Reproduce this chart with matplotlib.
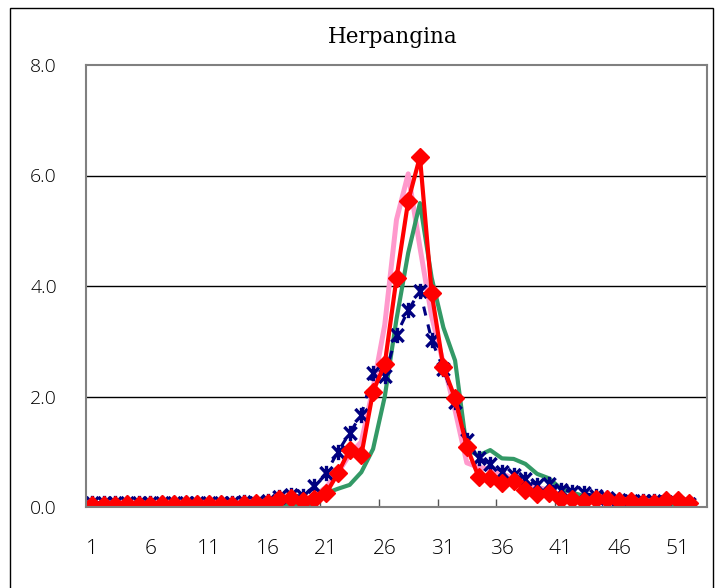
import numpy as np
import matplotlib
matplotlib.use("Agg")
import matplotlib.pyplot as plt
from matplotlib.patches import Rectangle
from matplotlib.path import Path

title = "Herpangina"
weeks = list(range(1, 53))
xtick_labels = [str(w) for w in range(1, 53, 5)]
ytick_vals = [0.0, 2.0, 4.0, 6.0, 8.0]

# current season (red, diamonds)
red = [0.04, 0.03, 0.04, 0.05, 0.03, 0.04, 0.06, 0.05, 0.06, 0.05, 0.05, 0.06, 0.04, 0.05,
       0.08, 0.07, 0.14, 0.16, 0.10, 0.14, 0.25, 0.61, 1.04, 0.94, 2.09, 2.59, 4.14, 5.54,
       6.34, 3.87, 2.53, 1.97, 1.09, 0.55, 0.53, 0.44, 0.47, 0.30, 0.24, 0.26, 0.15, 0.14,
       0.11, 0.15, 0.14, 0.11, 0.11, 0.08, 0.08, 0.12, 0.12, 0.07]
# navy, dashed with asterisks
navy = [0.08, 0.08, 0.08, 0.08, 0.08, 0.08, 0.08, 0.08, 0.08, 0.08, 0.08, 0.08, 0.08, 0.09,
        0.08, 0.10, 0.18, 0.21, 0.20, 0.38, 0.62, 1.00, 1.34, 1.67, 2.42, 2.37, 3.12, 3.56,
        3.91, 3.02, 2.50, 1.90, 1.22, 0.89, 0.78, 0.64, 0.58, 0.50, 0.40, 0.41, 0.31, 0.28,
        0.25, 0.20, 0.17, 0.13, 0.11, 0.10, 0.10, 0.09, 0.08, 0.06]
# pink line
pink = [0.06, 0.06, 0.07, 0.07, 0.06, 0.07, 0.07, 0.08, 0.07, 0.07, 0.08, 0.07, 0.07, 0.08,
        0.08, 0.09, 0.11, 0.13, 0.13, 0.20, 0.36, 0.62, 0.95, 1.18, 2.15, 3.30, 5.20, 6.03,
        4.70, 3.45, 2.60, 1.75, 0.80, 0.72, 0.68, 0.60, 0.52, 0.44, 0.36, 0.30, 0.22, 0.18,
        0.15, 0.12, 0.11, 0.10, 0.10, 0.09, 0.08, 0.08, 0.08, 0.06]
# green line
green = [0.03, 0.03, 0.03, 0.03, 0.03, 0.03, 0.03, 0.03, 0.03, 0.03, 0.03, 0.03, 0.03, 0.03,
         0.03, 0.03, 0.04, 0.04, 0.04, 0.06, 0.25, 0.33, 0.40, 0.63, 1.05, 2.00, 3.40, 4.60,
         5.50, 4.15, 3.25, 2.65, 1.05, 0.93, 1.03, 0.88, 0.87, 0.78, 0.60, 0.52, 0.34, 0.26,
         0.20, 0.15, 0.12, 0.10, 0.08, 0.07, 0.06, 0.05, 0.05, 0.04]

# asterisk marker: X plus vertical bar
star = Path([(-0.8, -0.85), (0.8, 0.85), (-0.8, 0.85), (0.8, -0.85), (0, -1), (0, 1)],
            [Path.MOVETO, Path.LINETO, Path.MOVETO, Path.LINETO, Path.MOVETO, Path.LINETO])

fig = plt.figure(figsize=(7.19, 5.88), dpi=100)
ax = fig.add_axes([86 / 719, 1 - 507 / 588, 621 / 719, 442 / 588])

# outer chart border
fig.patches.append(Rectangle((10 / 719, -0.02), 703 / 719, 1.02 - 8 / 588, transform=fig.transFigure,
                             fill=False, edgecolor="black", linewidth=1.0))

for y in ytick_vals[1:-1]:
    ax.axhline(y, color="black", linewidth=1.0, zorder=1)

ax.plot(weeks, pink, color="#FF99CC", linewidth=3.6, zorder=2)
ax.plot(weeks, green, color="#339966", linewidth=3.0, zorder=3)
ax.plot(weeks, navy, color="#000080", linewidth=2.2, linestyle=(0, (3, 3)),
        marker=star, markersize=11, markeredgewidth=2.4, zorder=4)
ax.plot(weeks, red, color="#FF0000", linewidth=3.0, marker="D", markersize=9,
        markeredgecolor="#FF0000", zorder=5)

ax.set_xlim(0.5, 53.5)
ax.set_ylim(0, 8)
ax.set_xticks([0.5 + 5 * k for k in range(11)])
ax.set_xticks([1 + 5 * k for k in range(11)], minor=True)
ax.set_xticklabels([])
ax.set_xticklabels(xtick_labels, minor=True)
ax.tick_params(axis="x", which="major", direction="in", length=6, width=1, color="#555555")
ax.tick_params(axis="x", which="minor", length=0, pad=23, labelsize=15)
ax.set_yticks(ytick_vals)
ax.set_yticklabels(["%.1f" % v for v in ytick_vals])
ax.tick_params(axis="y", length=0, pad=21, labelsize=14)
for lab in ax.get_xticklabels(minor=True) + ax.get_yticklabels():
    lab.set_family(["Open Sans", "DejaVu Sans"])
    lab.set_fontweight("light")
    lab.set_color("black")

for sp in ax.spines.values():
    sp.set_color("#808080")
    sp.set_linewidth(1.5)
    sp.set_zorder(6)

fig.text(393 / 719, 1 - 37 / 588, title, ha="center", va="center",
         fontsize=15.5, family="DejaVu Serif")

fig.savefig("out.png", dpi=100)
